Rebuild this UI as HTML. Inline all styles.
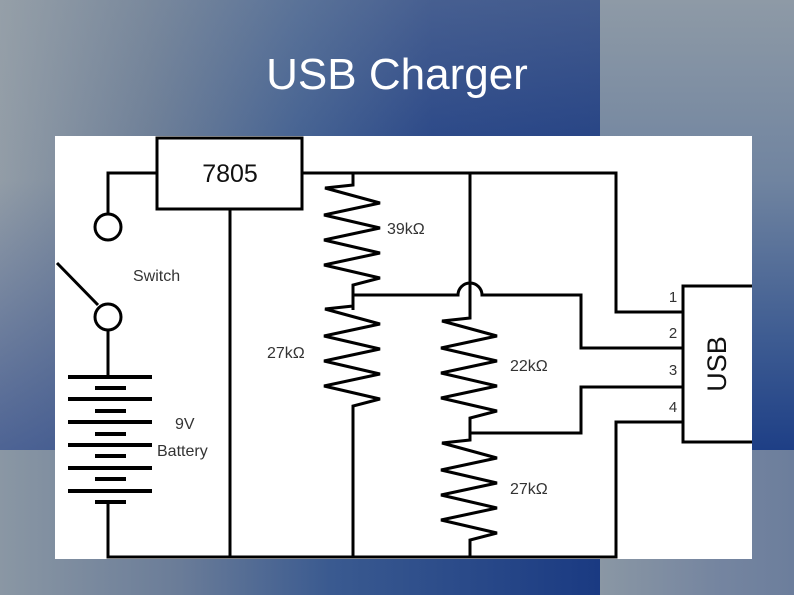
<!DOCTYPE html>
<html><head><style>
html,body{margin:0;padding:0;}
body{width:794px;height:595px;position:relative;overflow:hidden;font-family:"Liberation Sans",sans-serif;}
.bg{position:absolute;}
</style></head><body>
<div class="bg" style="left:0;top:0;width:600px;height:450px;background:linear-gradient(90deg,#959fa8 0%,#6a7c96 25%,#3a5a90 50%,#1c3c84 72%,#163680 100%);"></div>
<div class="bg" style="left:0;top:0;width:600px;height:450px;background:linear-gradient(180deg,rgba(150,160,168,0.35) 0%,rgba(120,135,155,0.1) 40%,rgba(30,60,135,0.6) 100%);"></div>
<div class="bg" style="left:600px;top:0;width:194px;height:450px;background:linear-gradient(180deg,#8e9aa6 0%,#7084a0 40%,#3e5c92 75%,#1e3f86 100%);"></div>
<div class="bg" style="left:0;top:450px;width:600px;height:145px;background:linear-gradient(90deg,#8a97a4 0%,#6a7c98 30%,#3a5a90 55%,#1a3a82 100%);"></div>
<div class="bg" style="left:600px;top:450px;width:194px;height:145px;background:linear-gradient(90deg,#8a97a4 0%,#7585a0 60%,#6c7e9c 100%);"></div>
<div style="position:absolute;left:0;top:50px;width:794px;text-align:center;color:#fff;font-size:44px;">USB Charger</div>
<svg style="position:absolute;left:0;top:0" width="794" height="595" viewBox="0 0 794 595">
<rect x="55" y="136" width="697" height="423" fill="#fff"/>
<g fill="none" stroke="#000" stroke-width="3" stroke-linejoin="miter">
<rect x="157" y="138" width="145" height="71"/>
<polyline points="157,173 108,173 108,214"/>
<circle cx="108" cy="227" r="13"/>
<circle cx="108" cy="317" r="13"/>
<line x1="57" y1="263" x2="98" y2="305"/>
<polyline points="108,330 108,377"/>
<g stroke-width="4">
<line x1="68" y1="377" x2="152" y2="377"/><line x1="68" y1="399" x2="152" y2="399"/><line x1="68" y1="422" x2="152" y2="422"/><line x1="68" y1="445" x2="152" y2="445"/><line x1="68" y1="468" x2="152" y2="468"/><line x1="68" y1="491" x2="152" y2="491"/>
<line x1="95" y1="388" x2="126" y2="388"/><line x1="95" y1="411" x2="126" y2="411"/><line x1="95" y1="434" x2="126" y2="434"/><line x1="95" y1="456" x2="126" y2="456"/><line x1="95" y1="479" x2="126" y2="479"/><line x1="95" y1="502" x2="126" y2="502"/>
</g>
<polyline points="108,502 108,557 616,557 616,422 683,422"/>
<line x1="230" y1="209" x2="230" y2="557"/>
<polyline points="302,173 616,173 616,312 683,312"/>
<polyline points="353,173 353,185 325,188 380,203 324,215 380,228 324,240 380,253 324,265 380,278 353,285 353,310"/>
<polyline points="353,300 353,306 325,309 380,324 324,336 380,349 324,361 380,374 324,386 380,399 353,406 353,557"/>
<polyline points="470,173 470,318 442,321 497,336 441,348 497,361 441,373 497,386 441,398 497,411 470,418 470,440"/>
<polyline points="470,433 470,440 442,443 497,458 441,470 497,483 441,495 497,508 441,520 497,533 470,540 470,557"/>
<path d="M353,295 L458,295 A12,12 0 0 1 482,295 L581,295 L581,348 L683,348"/>
<polyline points="470,433 581,433 581,387 683,387"/>
<polyline points="752,286 683,286 683,442 752,442"/>
</g>
<g font-family="Liberation Sans, sans-serif" fill="#333">
<text x="230" y="182" font-size="25" text-anchor="middle" fill="#111">7805</text>
<text x="133" y="281" font-size="16">Switch</text>
<text x="175" y="429" font-size="16">9V</text>
<text x="157" y="456" font-size="16">Battery</text>
<text x="387" y="234" font-size="16">39kΩ</text>
<text x="267" y="358" font-size="16">27kΩ</text>
<text x="510" y="371" font-size="16">22kΩ</text>
<text x="510" y="494" font-size="16">27kΩ</text>
<text x="673" y="302" font-size="15" text-anchor="middle">1</text>
<text x="673" y="338" font-size="15" text-anchor="middle">2</text>
<text x="673" y="375" font-size="15" text-anchor="middle">3</text>
<text x="673" y="412" font-size="15" text-anchor="middle">4</text>
<text x="0" y="0" font-size="27" text-anchor="middle" transform="translate(726,364) rotate(-90)" fill="#111">USB</text>
</g>
</svg>
</body></html>
